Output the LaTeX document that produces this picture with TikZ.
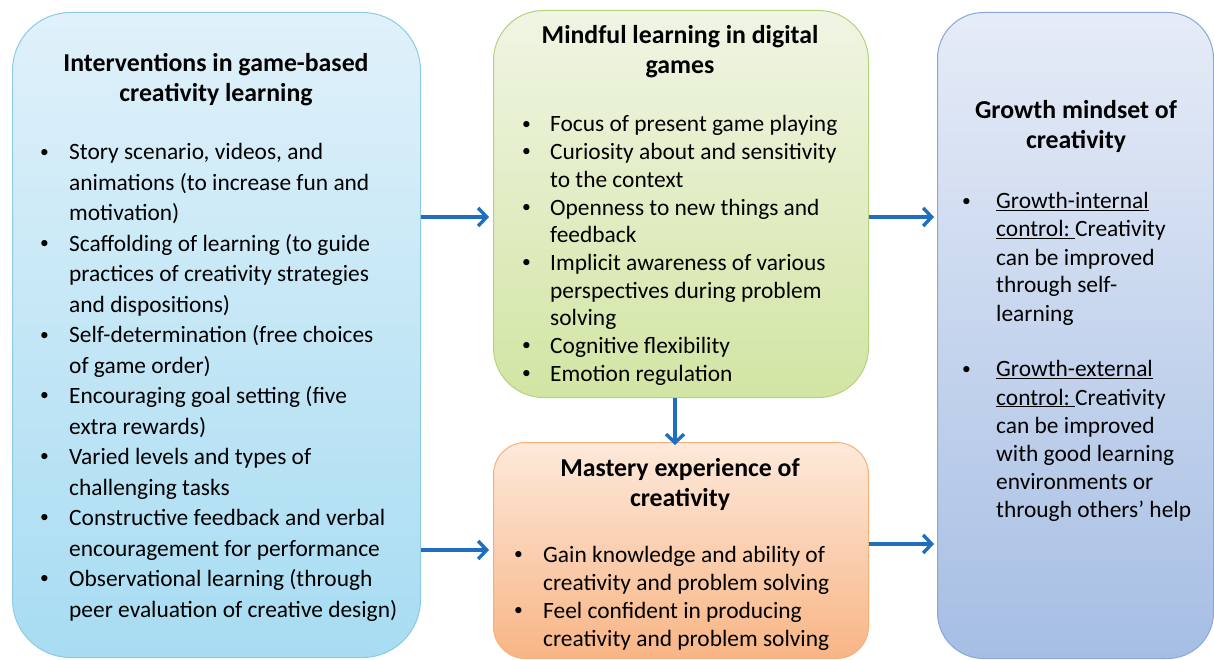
\documentclass[tikz,border=0pt]{standalone}
\usepackage{fontspec}
\usepackage{graphicx}
\setmainfont{Carlito}
\usetikzlibrary{arrows.meta}

\definecolor{lefttop}{HTML}{E0F1FA}
\definecolor{leftbot}{HTML}{A7DCF2}
\definecolor{leftline}{HTML}{8DCAE3}
\definecolor{greentop}{HTML}{F0F5E4}
\definecolor{greenbot}{HTML}{D2E5A3}
\definecolor{greenline}{HTML}{B4D37E}
\definecolor{orangetop}{HTML}{FDE9DB}
\definecolor{orangebot}{HTML}{F8B585}
\definecolor{orangeline}{HTML}{F5B07A}
\definecolor{bluetop}{HTML}{E6ECF7}
\definecolor{bluebot}{HTML}{A6BEE4}
\definecolor{blueline}{HTML}{88A8D6}
\definecolor{arrowblue}{HTML}{1F6FC0}

% small bullet mark
\newcommand{\smallbullet}{\raisebox{0.12em}{\scalebox{0.75}{\textbullet}}}
% one bullet item; #1 = indent from bullet to text; lines split with \newline
\newcommand{\bitem}[2]{\par\noindent\hangindent=#1\hangafter=1\makebox[#1][l]{\smallbullet}#2\par}

\tikzset{
  box/.style={draw, line width=1pt, anchor=north west, inner sep=0pt},
  titletext/.style={anchor=base, inner sep=0pt, font=\bfseries\fontsize{25.8}{30}\selectfont},
  bodytext/.style={anchor=base west, inner sep=0pt},
  conn/.style={draw=arrowblue, line width=3.4pt, -{Straight Barb[length=8.5pt,width=18pt,line width=3.4pt]}}
}

\begin{document}
\begin{tikzpicture}[x=1pt,y=-1pt]
\useasboundingbox (0,0) rectangle (1214,660);

% boxes
\node[box, draw=leftline, top color=lefttop, bottom color=leftbot, rounded corners=58pt,
      minimum width=408pt, minimum height=645pt] (left) at (12,12) {};
\node[box, draw=greenline, top color=greentop, bottom color=greenbot, rounded corners=50pt,
      minimum width=375pt, minimum height=387pt] (mind) at (493,10) {};
\node[box, draw=orangeline, top color=orangetop, bottom color=orangebot, rounded corners=32pt,
      minimum width=375pt, minimum height=216pt] (mast) at (493,442) {};
\node[box, draw=blueline, top color=bluetop, bottom color=bluebot, rounded corners=46pt,
      minimum width=276pt, minimum height=646pt] (grow) at (937,12) {};

% titles
\node[titletext] (lefttitle) at (216,72) {\parbox[t]{400pt}{\centering Interventions in game-based\\creativity learning}};
\node[titletext] (mindtitle) at (680,44) {\parbox[t]{370pt}{\centering Mindful learning in digital\\games}};
\node[titletext] (masttitle) at (680,476) {\parbox[t]{370pt}{\centering Mastery experience of\\creativity}};
\node[titletext] (growtitle) at (1076,119) {\parbox[t]{270pt}{\centering Growth mindset of\\creativity}};

% bullet lists
\node[bodytext] (leftlist) at (40,160) {\parbox[t]{378pt}{\fontsize{23.4}{30.47}\selectfont
\bitem{29pt}{Story scenario, videos, and\newline animations (to increase fun and\newline motivation)}
\bitem{29pt}{Scaffolding of learning (to guide\newline practices of creativity strategies\newline and dispositions)}
\bitem{29pt}{Self-determination (free choices\newline of game order)}
\bitem{29pt}{Encouraging goal setting (five\newline extra rewards)}
\bitem{29pt}{Varied levels and types of\newline challenging tasks}
\bitem{29pt}{Constructive feedback and verbal\newline encouragement for performance}
\bitem{29pt}{Observational learning (through\newline peer evaluation of creative design)}}};

\node[bodytext] (mindlist) at (522,132) {\parbox[t]{342pt}{\fontsize{23.4}{27.67}\selectfont
\bitem{28pt}{Focus of present game playing}
\bitem{28pt}{Curiosity about and sensitivity\newline to the context}
\bitem{28pt}{Openness to new things and\newline feedback}
\bitem{28pt}{Implicit awareness of various\newline perspectives during problem\newline solving}
\bitem{28pt}{Cognitive flexibility}
\bitem{28pt}{Emotion regulation}}};

\node[bodytext] (mastlist) at (514,562) {\parbox[t]{350pt}{\fontsize{23.4}{28}\selectfont
\bitem{29pt}{Gain knowledge and ability of\newline creativity and problem solving}
\bitem{29pt}{Feel confident in producing\newline creativity and problem solving}}};

\node[bodytext] (growlist) at (962,209) {\parbox[t]{250pt}{\fontsize{23.4}{28}\selectfont
\bitem{34pt}{\underline{Growth-internal}\newline\underline{control:\ }Creativity\newline can be improved\newline through self-\newline learning}
\vspace{28pt}
\bitem{34pt}{\underline{Growth-external}\newline\underline{control:\ }Creativity\newline can be improved\newline with good learning\newline environments or\newline through others’ help}}};

% connectors
\draw[conn] (left.east |- 0,217) -- ([xshift=-4pt]mind.west |- 0,217);
\draw[conn] (mind.east |- 0,217) -- ([xshift=-3pt]grow.west |- 0,217);
\draw[conn] (mind.south -| 675,0) -- ([yshift=-3pt]mast.north -| 675,0);
\draw[conn] (left.east |- 0,550) -- ([xshift=-4pt]mast.west |- 0,550);
\draw[conn] (mast.east |- 0,544) -- ([xshift=-3pt]grow.west |- 0,544);
\end{tikzpicture}
\end{document}
